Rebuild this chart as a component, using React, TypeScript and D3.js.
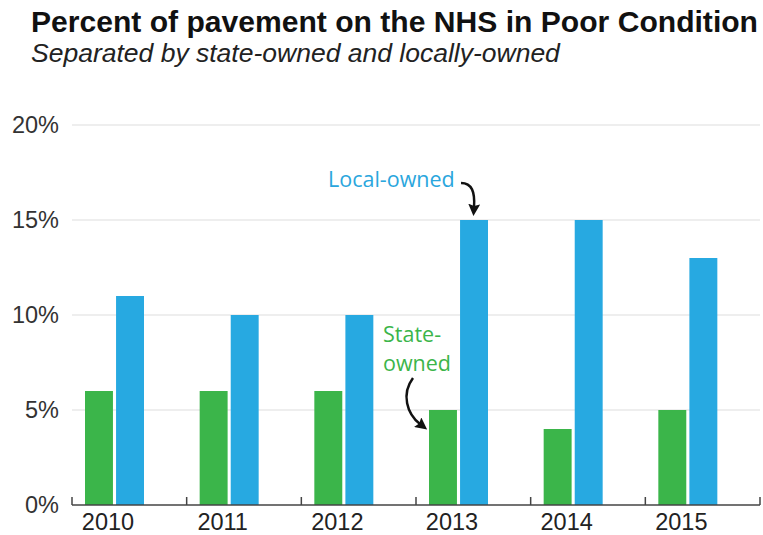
import React from "react";
import * as d3 from "d3";

const years = ["2010", "2011", "2012", "2013", "2014", "2015"];
const stateOwned = [6, 6, 6, 5, 4, 5];
const localOwned = [11, 10, 10, 15, 15, 13];
const yTicks = [0, 5, 10, 15, 20];
const seriesKeys = ["State-owned", "Local-owned"];
const seriesColors = ["#3bb54a", "#27a9e1"];

const W = 763;
const H = 535;

export default function App() {
  const x = d3.scaleBand<string>().domain(years).range([72, 760]).paddingInner(0).paddingOuter(0);
  const sub = d3.scaleBand<string>().domain(seriesKeys).range([13, 72]).paddingInner(0.1);
  const y = d3.scaleLinear().domain([0, 20]).range([505, 125]);
  const values = [stateOwned, localOwned];
  const tickFont = "'Liberation Sans', Arial, Helvetica, sans-serif";
  const annFont = "'Open Sans', 'Noto Sans', sans-serif";

  const boundaries = years.map((yr) => x(yr) as number).concat([x.range()[1]]);

  const i13 = years.indexOf("2013");
  const localX = (x("2013") as number) + (sub("Local-owned") as number) + sub.bandwidth() / 2;
  const localTop = y(localOwned[i13]);
  const stateLeft = (x("2013") as number) + (sub("State-owned") as number);
  const stateTop = y(stateOwned[i13]);

  return (
    <svg width={W} height={H} style={{ position: "absolute", left: 0, top: 0, background: "#fff" }}>
      <defs>
        <marker id="ah" viewBox="0 0 12 12" refX="3" refY="6" markerWidth="12" markerHeight="12" orient="auto" markerUnits="userSpaceOnUse">
          <path d="M0,0 L12,6 L0,12 L2,6 z" fill="#111" />
        </marker>
      </defs>
      <text x={31} y={32} fontFamily={tickFont} fontWeight="bold" fontSize={29.5} fill="#111" textLength={727} lengthAdjust="spacingAndGlyphs">
        Percent of pavement on the NHS in Poor Condition
      </text>
      <text x={31} y={62} fontFamily={tickFont} fontStyle="italic" fontSize={26.5} fill="#222">
        Separated by state-owned and locally-owned
      </text>

      {yTicks.filter((t) => t > 0).map((t) => (
        <line key={t} x1={72} x2={760} y1={y(t)} y2={y(t)} stroke="#e8e8e8" strokeWidth={1.5} />
      ))}
      {yTicks.map((t) => (
        <text key={t} x={59} y={y(t)} dy="0.36em" textAnchor="end" fontFamily={tickFont} fontSize={23.5} fill="#333">
          {t + "%"}
        </text>
      ))}

      {years.map((yr, i) =>
        values.map((vals, s) => (
          <rect
            key={yr + s}
            x={(x(yr) as number) + (sub(seriesKeys[s]) as number)}
            y={y(vals[i])}
            width={sub.bandwidth()}
            height={y(0) - y(vals[i])}
            fill={seriesColors[s]}
          />
        ))
      )}

      <line x1={72} x2={760} y1={y(0)} y2={y(0)} stroke="#444" strokeWidth={1.5} />
      {boundaries.map((b, i) => (
        <line key={i} x1={b} x2={b} y1={y(0)} y2={y(0) - 8} stroke="#444" strokeWidth={1.5} />
      ))}
      {years.map((yr) => (
        <text key={yr} x={(x(yr) as number) + 36} y={530} textAnchor="middle" fontFamily={tickFont} fontSize={23.5} fill="#222">
          {yr}
        </text>
      ))}

      <text x={localX - 146} y={localTop - 33} fontFamily={annFont} fontSize={21.5} fill="#2aa6dd">
        Local-owned
      </text>
      <path
        d={`M${localX - 13},${localTop - 37} C${localX - 2},${localTop - 37} ${localX + 1},${localTop - 28} ${localX},${localTop - 13}`}
        fill="none"
        stroke="#111"
        strokeWidth={2.5}
        markerEnd="url(#ah)"
      />
      <text x={stateLeft - 46} y={stateTop - 68} fontFamily={annFont} fontSize={21.5} fill="#3bb54a">
        State-
      </text>
      <text x={stateLeft - 46} y={stateTop - 39} fontFamily={annFont} fontSize={21.5} fill="#3bb54a">
        owned
      </text>
      <path
        d={`M${stateLeft - 16},${stateTop - 32} C${stateLeft - 28},${stateTop - 16} ${stateLeft - 22},${stateTop + 4} ${stateLeft - 9},${stateTop + 14}`}
        fill="none"
        stroke="#111"
        strokeWidth={2.5}
        markerEnd="url(#ah)"
      />
    </svg>
  );
}
